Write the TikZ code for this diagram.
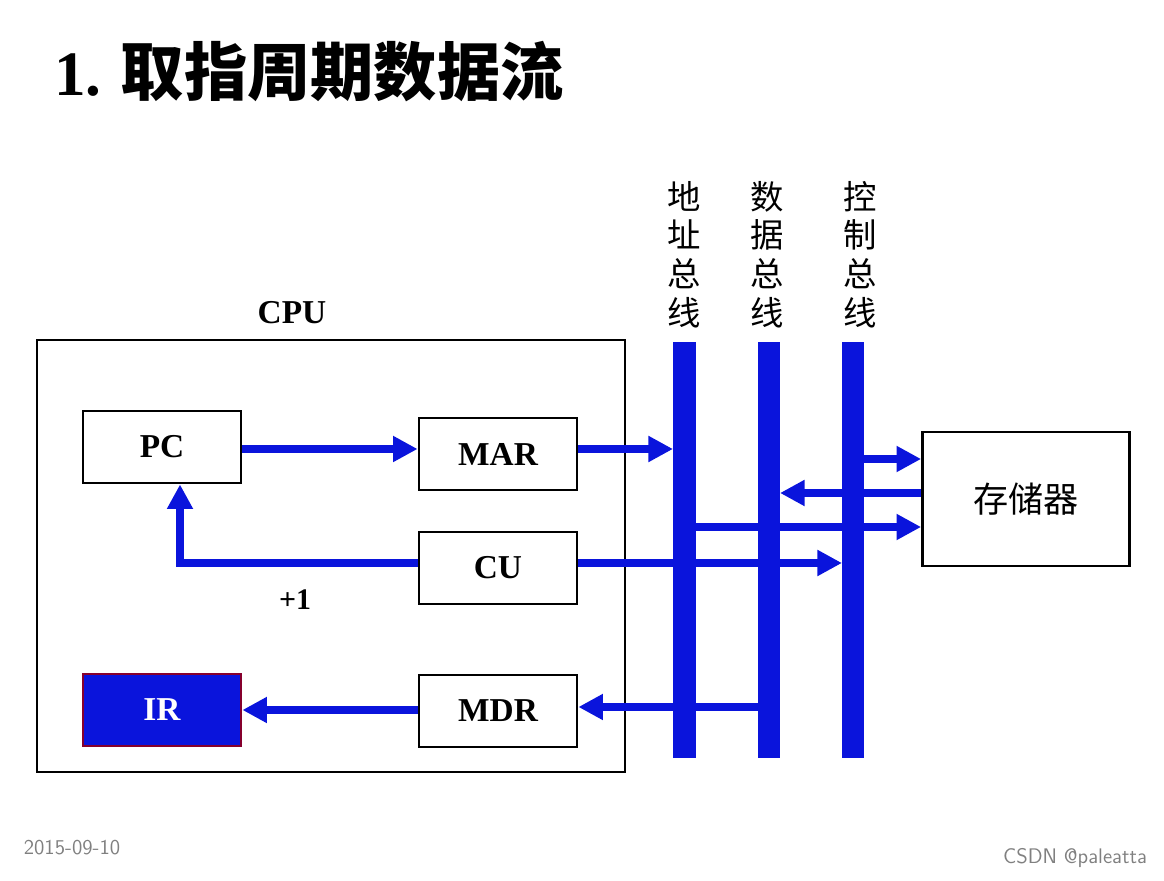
\documentclass[tikz,border=0pt]{standalone}
\usepackage{fontspec}
\setmainfont{Liberation Serif}
\newfontfamily\cjk{Noto Sans CJK SC}
\usetikzlibrary{arrows.meta,positioning}
\definecolor{busblue}{RGB}{10,20,220}
\tikzset{
    unit/.style={draw,line width=1.6pt,minimum width=3.16cm,minimum height=1.44cm,font=\bfseries\fontsize{19}{19}\selectfont},
    flow/.style={busblue,line width=5pt,-{Triangle[length=14pt,width=14pt]}},
    bus/.style={fill=busblue},
    buslabel/.style={font=\cjk\fontsize{19}{22}\selectfont,align=center,anchor=south},
}
\begin{document}
\begin{tikzpicture}[x=0.02cm,y=-0.02cm]
    \useasboundingbox (0,0) rectangle (1164,881);
    \node[anchor=west,font=\cjk\bfseries\fontsize{36}{36}\selectfont] (title) at (48,72) {\textrm{\textbf{1.}} 取指周期数据流};
    % CPU
    \draw[line width=1.6pt] (37,340) rectangle (625,772);
    \node[font=\bfseries\fontsize{19}{19}\selectfont] (cpu) at (292,313) {CPU};
    \node[unit] (pc) at (162,447) {PC};
    \node[unit] (mar) at (498,454) {MAR};
    \node[unit] (cu) at (498,568) {CU};
    \node[unit] (mdr) at (498,711) {MDR};
    \node[unit,fill=busblue,draw=purple!70!black,text=white] (ir) at (162,710) {IR};
    \node[font=\bfseries\fontsize{17}{17}\selectfont] (inc) at (295,600) {+1};
    % memory
    \node[draw,line width=1.6pt,minimum width=4.14cm,minimum height=2.68cm,font=\cjk\fontsize{20}{20}\selectfont] (mem) at (1026,499) {存储器};
    % bus end points
    \coordinate (abus) at (673,449);
    \coordinate (cbus) at (842,563);
    \coordinate (cpcturn) at (180,563);
    \coordinate (dbusin) at (780,493);
    \coordinate (dbusout) at (758,707);
    \coordinate (cbusmem) at (864,459);
    \coordinate (abusmem) at (696,527);
    % flows
    \draw[flow] (pc.east|-abus) -- (mar.west|-abus);
    \draw[flow] (mar.east|-abus) -- (abus);
    \draw[flow] (cu.west|-cbus) -- (cpcturn) -- (pc.south-|cpcturn);
    \draw[flow] (cu.east|-cbus) -- (cbus);
    \draw[flow] (abusmem) -- (mem.west|-abusmem);
    \draw[flow] (cbusmem) -- (mem.west|-cbusmem);
    \draw[flow] (mem.west|-dbusin) -- (dbusin);
    \draw[flow] (dbusout) -- (mdr.east|-dbusout);
    \draw[flow] (mdr.west|-ir) -- (ir.east);
    % buses
    \fill[bus] (673,342) rectangle (696,758);
    \fill[bus] (758,342) rectangle (780,758);
    \fill[bus] (842,342) rectangle (864,758);
    \node[buslabel] (addr) at (684,334) {地\\址\\总\\线};
    \node[buslabel] (data) at (767,334) {数\\据\\总\\线};
    \node[buslabel] (ctrl) at (860,334) {控\\制\\总\\线};
    % footer
    \node[text=gray,font=\sffamily\fontsize{12}{12}\selectfont] (date) at (72,848) {2015-09-10};
    \node[text=gray,font=\sffamily\fontsize{12}{12}\selectfont] (csdn) at (1075,858) {CSDN @paleatta};
\end{tikzpicture}
\end{document}
